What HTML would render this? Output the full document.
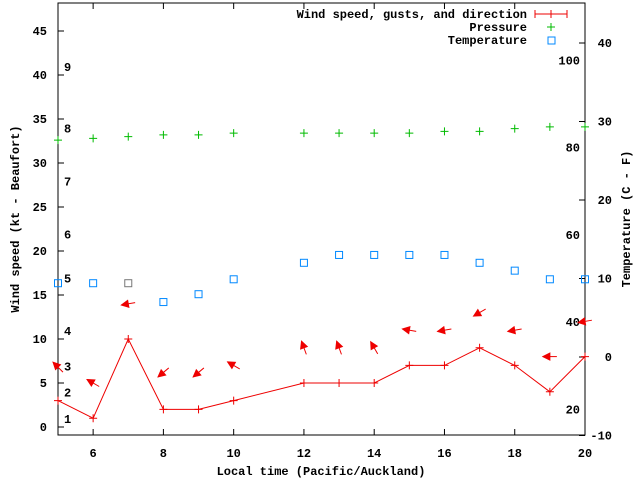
<!DOCTYPE html>
<html><head><meta charset="utf-8"><style>
body{margin:0;background:#fff}
svg{display:block;font-family:"Liberation Mono","DejaVu Sans Mono",monospace;font-size:12px;font-weight:bold}
</style></head><body>
<svg id="c" width="640" height="480" viewBox="0 0 640 480">
<g id="axes"></g>
<g id="marks"></g>
</svg>
<script>
const hours=[5,6,7,8,9,10,12,13,14,15,16,17,18,19,20];
const windSpeed=[3,1,10,2,2,3,5,5,5,7,7,9,7,4,8];
const gusts=[6.8,5,14,6.2,6.2,7,9,9,9,11,11,13,11,8,12];
const windDir=[225,210,170,140,140,210,250,250,240,190,170,150,170,180,170];
const pressure=[32.6,32.8,33,33.2,33.2,33.4,33.4,33.4,33.4,33.4,33.6,33.6,33.9,34.1,34.1];
const tempC=[9.4,9.4,9.4,7.0,8.0,9.9,12,13,13,13,13,12,11,9.9,9.9];
const xTicks=[6,8,10,12,14,16,18,20];
const yTicks=[0,5,10,15,20,25,30,35,40,45];
const cTicks=[-10,0,10,20,30,40];
const fTicks=[20,40,60,80,100];
const beaufortLevels=[1,2,3,4,5,6,7,8,9];
const beaufortY=[0.9,3.9,6.9,10.9,16.9,21.9,27.9,33.9,40.9];

const L=58,R=585,T=3,B=435;
const X=h=>L+(h-5)*(R-L)/15;
const Y=v=>427-v*8.8;
const YC=c=>357-c*7.85;
const YF=f=>YC((f-32)*5/9);
const NS='http://www.w3.org/2000/svg';
function mk(tag,attrs,parent,txt){const e=document.createElementNS(NS,tag);for(const k in attrs)e.setAttribute(k,attrs[k]);if(txt!==undefined)e.textContent=txt;parent.appendChild(e);return e;}
const ax=document.getElementById('axes'),mg=document.getElementById('marks');

let fr=mk('rect',{x:L,y:T,width:R-L,height:B-T,fill:'none',stroke:'#000','stroke-width':1},ax);



xTicks.forEach(t=>{
  mk('line',{x1:X(t),x2:X(t),y1:B,y2:B-6,stroke:'#000'},ax);
  mk('line',{x1:X(t),x2:X(t),y1:T,y2:T+6,stroke:'#000'},ax);
  let tx=mk('text',{x:X(t),y:457,'text-anchor':'middle'},ax,t);
  
  
});
yTicks.forEach(t=>{
  mk('line',{x1:L,x2:L+6,y1:Y(t),y2:Y(t),stroke:'#000'},ax);
  let tx=mk('text',{x:47,y:Y(t)+4,'text-anchor':'end'},ax,t);
  
  
});
cTicks.forEach(t=>{
  mk('line',{x1:R,x2:R-6,y1:YC(t),y2:YC(t),stroke:'#000'},ax);
  let tx=mk('text',{x:612,y:YC(t)+4,'text-anchor':'end'},ax,t);
  
  
});
fTicks.forEach(t=>{
  let tx=mk('text',{x:580,y:YF(t)+4,'text-anchor':'end'},ax,t);
  
  
});
beaufortLevels.forEach((b,i)=>{
  let tx=mk('text',{x:64,y:Y(beaufortY[i])+4},ax,b);
  
  
});
let xt=mk('text',{x:321,y:475,'text-anchor':'middle'},ax,'Local time (Pacific/Auckland)');


let yt=mk('text',{x:0,y:0,'text-anchor':'middle',transform:'translate(19,219) rotate(-90)'},ax,'Wind speed (kt - Beaufort)');


let y2=mk('text',{x:0,y:0,'text-anchor':'middle',transform:'translate(630,219) rotate(-90)'},ax,'Temperature (C - F)');



// legend
let l1=mk('text',{x:527,y:18,'text-anchor':'end'},ax,'Wind speed, gusts, and direction');


mk('path',{d:'M535 14H567M535 10V18M551 10V18M567 10V18',stroke:'#e00',fill:'none'},ax);
let l2=mk('text',{x:527,y:31,'text-anchor':'end'},ax,'Pressure');


mk('path',{d:'M547 27H555M551 23V31',stroke:'#0b0',fill:'none'},ax);
let l3=mk('text',{x:527,y:44,'text-anchor':'end'},ax,'Temperature');


mk('rect',{x:548,y:37,width:7,height:7,stroke:'#08f',fill:'none'},ax);

// pressure
hours.forEach((h,i)=>{
  let p=mk('path',{d:`M${X(h)-4} ${Y(pressure[i])}H${X(h)+4}M${X(h)} ${Y(pressure[i])-4}V${Y(pressure[i])+4}`,stroke:'#0b0',fill:'none'},mg);
  
  
});
// temperature
hours.forEach((h,i)=>{
  let r=mk('rect',{x:X(h)-3.5,y:YC(tempC[i])-3.5,width:7,height:7,stroke:h===7?'#777':'#08f',fill:'none'},mg);
  
  
});
// wind line
let pl=mk('polyline',{points:hours.map((h,i)=>X(h)+','+Y(windSpeed[i])).join(' '),stroke:'#e00',fill:'none'},mg);


hours.forEach((h,i)=>{
  let p=mk('path',{d:`M${X(h)-4} ${Y(windSpeed[i])}H${X(h)+4}M${X(h)} ${Y(windSpeed[i])-4}V${Y(windSpeed[i])+4}`,stroke:'#e00',fill:'none'},mg);
  
  
});
// arrows
hours.forEach((h,i)=>{
  const cx=X(h),cy=Y(gusts[i]),a=windDir[i]*Math.PI/180;
  const dx=Math.cos(a),dy=Math.sin(a);
  const tx=cx+dx*7,ty=cy+dy*7,sx=cx-dx*7,sy=cy-dy*7;
  const px=-dy,py=dx;
  const bx=tx-dx*7,by=ty-dy*7;
  let g=mk('g',{},mg);
  
  
  mk('line',{x1:sx,y1:sy,x2:tx,y2:ty,stroke:'#e00'},g);
  mk('polygon',{points:`${tx},${ty} ${bx+px*3.5},${by+py*3.5} ${bx-px*3.5},${by-py*3.5}`,fill:'#e00',stroke:'#e00'},g);
});
</script>
</body></html>
